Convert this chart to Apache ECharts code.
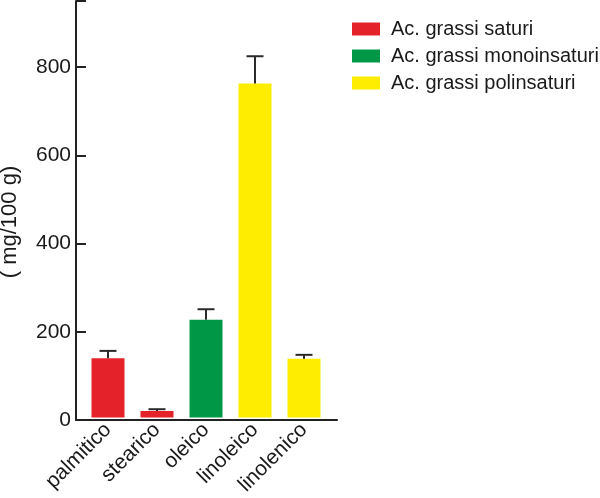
<!DOCTYPE html>
<html lang="it">
<head>
	<meta charset="UTF-8">
	<title>Acidi grassi</title>
	<script type="text/javascript" src="https://cdn.jsdelivr.net/npm/echarts@6/dist/echarts.min.js"></script>
	<style type="text/css">
	body{margin: 0;background: #fff;}
	#container{width: 600px;height: 498px;}
	</style>
</head>
<body>
	<div id="container"></div>
	<script type="text/javascript">
		// dati
		var categories = ['palmitico', 'stearico', 'oleico', 'linoleico', 'linolenico'];
		var saturi = [135, 15, null, null, null];
		var monoinsaturi = [null, null, 223, null, null];
		var polinsaturi = [null, null, null, 762, 134];
		var errTop = [152, 19, 247, 824, 143];
		var yTicks = [0, 200, 400, 600, 800];

		var means = categories.map(function(c, i){
			return saturi[i] != null ? saturi[i] : (monoinsaturi[i] != null ? monoinsaturi[i] : polinsaturi[i]);
		});
		var errData = categories.map(function(c, i){ return [i, means[i], errTop[i]]; });

		var font = '"Liberation Sans", Arial, sans-serif';
		var ink = '#1a1a1a';

		var dom = document.getElementById("container");
		var myChart = echarts.init(dom);
		var option = {
			animation: false,
			grid: [
				{left: 76, width: 261, top: 1, height: 419},
				{left: 83.5, width: 245, top: 1, height: 419}
			],
			legend: {
				orient: 'vertical',
				left: 352,
				top: 19,
				padding: 0,
				itemWidth: 28,
				itemHeight: 13,
				itemGap: 7,
				icon: 'rect',
				textStyle: {fontFamily: font, fontSize: 20, color: ink, padding: [0, 0, 0, 6]},
				data: ['Ac. grassi saturi', 'Ac. grassi monoinsaturi', 'Ac. grassi polinsaturi']
			},
			graphic: [{
				type: 'text',
				x: 10,
				y: 222,
				rotation: Math.PI / 2,
				style: {text: '( mg/100 g)', font: '22px ' + font, fill: ink, textAlign: 'center', textVerticalAlign: 'middle'}
			}],
			xAxis: [
				{
					type: 'value', gridIndex: 0, min: 0, max: 1,
					axisLine: {show: true, lineStyle: {color: '#222', width: 2}},
					axisTick: {show: false}, axisLabel: {show: false}, splitLine: {show: false}
				},
				{
					type: 'category', gridIndex: 1, data: categories,
					axisLine: {show: false}, axisTick: {show: false}, splitLine: {show: false},
					axisLabel: {rotate: 45, margin: 9, fontFamily: font, fontSize: 21, color: ink, interval: 0}
				}
			],
			yAxis: [
				{
					type: 'value', gridIndex: 0, min: 0, max: 950, interval: 200,
					axisLine: {show: true, lineStyle: {color: '#222', width: 2}},
					axisTick: {show: true, inside: true, length: 10, lineStyle: {color: '#222', width: 2}},
					axisLabel: {margin: 5, fontFamily: font, fontSize: 21, color: ink,
						formatter: function(v){ return yTicks.indexOf(v) >= 0 ? String(v) : ''; }},
					splitLine: {show: false}
				},
				{type: 'value', gridIndex: 1, min: 0, max: 950, show: false}
			],
			series: [
				{name: 'Ac. grassi saturi', type: 'bar', xAxisIndex: 1, yAxisIndex: 1,
					barWidth: 33, barGap: '-100%', itemStyle: {color: '#e42229'}, data: saturi},
				{name: 'Ac. grassi monoinsaturi', type: 'bar', xAxisIndex: 1, yAxisIndex: 1,
					barWidth: 33, barGap: '-100%', itemStyle: {color: '#009846'}, data: monoinsaturi},
				{name: 'Ac. grassi polinsaturi', type: 'bar', xAxisIndex: 1, yAxisIndex: 1,
					barWidth: 33, barGap: '-100%', itemStyle: {color: '#ffed00'}, data: polinsaturi},
				{
					type: 'custom', xAxisIndex: 1, yAxisIndex: 1, z: 5,
					renderItem: function(params, api){
						var base = api.coord([api.value(0), api.value(1)]);
						var top = api.coord([api.value(0), api.value(2)]);
						var half = 8.5;
						var st = {stroke: '#2a2a2a', lineWidth: 2};
						return {type: 'group', children: [
							{type: 'line', shape: {x1: base[0], y1: base[1], x2: top[0], y2: top[1]}, style: st},
							{type: 'line', shape: {x1: top[0] - half, y1: top[1], x2: top[0] + half, y2: top[1]}, style: st}
						]};
					},
					data: errData
				}
			]
		};
		myChart.setOption(option);
	</script>
</body>
</html>
